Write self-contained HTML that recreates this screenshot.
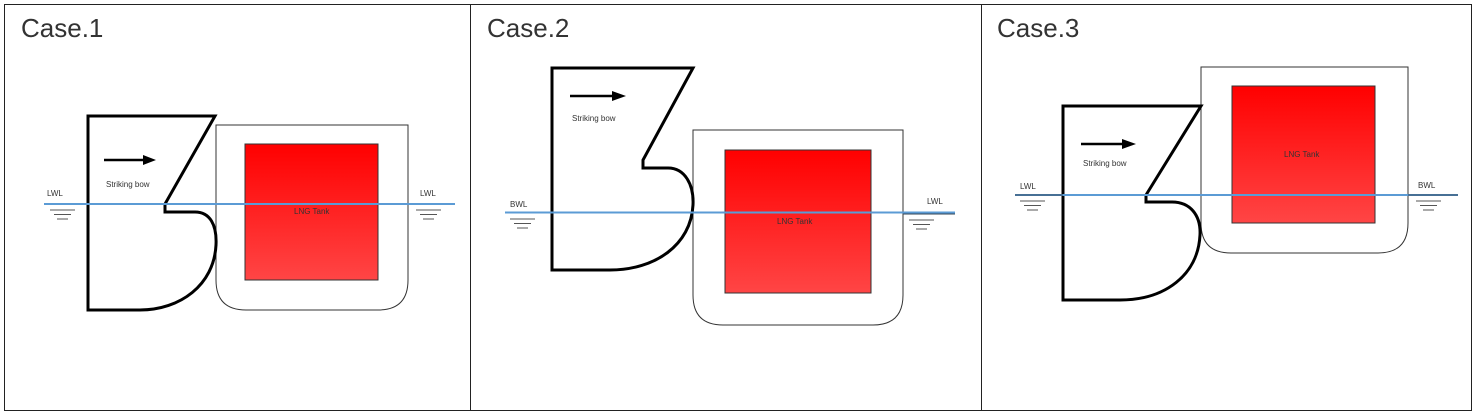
<!DOCTYPE html>
<html><head><style>
html,body{margin:0;padding:0;background:#fff;}
svg{display:block;}
text{font-family:"Liberation Sans",sans-serif;}
</style></head><body>
<svg width="1480" height="418" viewBox="0 0 1480 418" xmlns="http://www.w3.org/2000/svg">
<defs>
<linearGradient id="g" x1="0" y1="0" x2="0" y2="1">
<stop offset="0" stop-color="#ff0000"/><stop offset="1" stop-color="#ff4545"/>
</linearGradient>
</defs>
<rect x="4.5" y="4.5" width="1467" height="406" fill="#fff" stroke="#222" stroke-width="1"/>
<line x1="470.5" y1="4" x2="470.5" y2="411" stroke="#222"/>
<line x1="981.5" y1="4" x2="981.5" y2="411" stroke="#222"/>
<g font-size="26" fill="#333" font-weight="300">
<text x="21" y="37">Case.1</text>
<text x="487" y="37">Case.2</text>
<text x="997" y="37">Case.3</text>
</g>

<!-- Case 1 -->
<path d="M216,125 H408 V280 Q408,310 378,310 H246 Q216,310 216,280 Z" fill="#fff" stroke="#333" stroke-width="1"/>
<rect x="245" y="144" width="133" height="136" fill="url(#g)" stroke="#333" stroke-width="1"/>
<path d="M88,116 H215 L165,204 V212 H195 C210,212 217,225 216,245 C214,285 180,310 140,310 H88 Z" fill="#fff" stroke="#000" stroke-width="3" stroke-linejoin="miter"/>
<line x1="104" y1="160" x2="145" y2="160" stroke="#000" stroke-width="2.5"/>
<polygon points="143,155 156,160 143,165" fill="#000"/>
<text x="106" y="187" font-size="8" fill="#333">Striking bow</text>
<text x="294" y="214" font-size="8" fill="#333">LNG Tank</text>
<line x1="44" y1="204" x2="455" y2="204" stroke="#5b9bd5" stroke-width="2"/>
<text x="47" y="196" font-size="8" fill="#333">LWL</text>
<text x="420" y="196" font-size="8" fill="#333">LWL</text>
<g stroke="#555" stroke-width="1">
<line x1="50" y1="210" x2="75" y2="210"/><line x1="54" y1="214.5" x2="71" y2="214.5"/><line x1="57" y1="219" x2="68" y2="219"/>
<line x1="416" y1="210" x2="441" y2="210"/><line x1="420" y1="214.5" x2="437" y2="214.5"/><line x1="423" y1="219" x2="434" y2="219"/>
</g>

<!-- Case 2 -->
<path d="M693,130 H903 V295 Q903,325 873,325 H723 Q693,325 693,295 Z" fill="#fff" stroke="#333" stroke-width="1"/>
<rect x="725" y="150" width="146" height="143" fill="url(#g)" stroke="#333" stroke-width="1"/>
<path d="M552,68 H693 L643,160 V168 H668 C685,168 694,185 693,205 C691,245 655,270 610,270 H552 Z" fill="#fff" stroke="#000" stroke-width="3"/>
<line x1="570" y1="96" x2="614" y2="96" stroke="#000" stroke-width="2.5"/>
<polygon points="612,91 626,96 612,101" fill="#000"/>
<text x="572" y="121" font-size="8" fill="#333">Striking bow</text>
<text x="777" y="224" font-size="8" fill="#333">LNG Tank</text>
<line x1="505" y1="212.5" x2="955" y2="212.5" stroke="#5b9bd5" stroke-width="2"/>
<line x1="903" y1="214" x2="955" y2="214" stroke="#345" stroke-width="1"/>
<text x="510" y="207" font-size="8" fill="#333">BWL</text>
<text x="927" y="204" font-size="8" fill="#333">LWL</text>
<g stroke="#555" stroke-width="1">
<line x1="510" y1="219" x2="535" y2="219"/><line x1="514" y1="223.5" x2="531" y2="223.5"/><line x1="517" y1="228" x2="528" y2="228"/>
<line x1="909" y1="220" x2="934" y2="220"/><line x1="913" y1="224.5" x2="930" y2="224.5"/><line x1="916" y1="229" x2="927" y2="229"/>
</g>

<!-- Case 3 -->
<path d="M1201,67 H1408 V223 Q1408,253 1378,253 H1231 Q1201,253 1201,223 Z" fill="#fff" stroke="#333" stroke-width="1"/>
<rect x="1232" y="86" width="143" height="137" fill="url(#g)" stroke="#333" stroke-width="1"/>
<path d="M1063,106 H1201 L1146,195 V202 H1172 C1190,202 1201,215 1200,235 C1198,275 1165,300 1120,300 H1063 Z" fill="#fff" stroke="#000" stroke-width="3"/>
<line x1="1081" y1="144" x2="1124" y2="144" stroke="#000" stroke-width="2.5"/>
<polygon points="1122,139 1136,144 1122,149" fill="#000"/>
<text x="1083" y="166" font-size="8" fill="#333">Striking bow</text>
<text x="1284" y="157" font-size="8" fill="#333">LNG Tank</text>
<line x1="1015" y1="195" x2="1458" y2="195" stroke="#5b9bd5" stroke-width="2"/>
<line x1="1015" y1="195" x2="1063" y2="195" stroke="#345" stroke-width="1"/>
<line x1="1408" y1="195" x2="1458" y2="195" stroke="#345" stroke-width="1"/>
<text x="1020" y="189" font-size="8" fill="#333">LWL</text>
<text x="1418" y="188" font-size="8" fill="#333">BWL</text>
<g stroke="#555" stroke-width="1">
<line x1="1020" y1="201" x2="1045" y2="201"/><line x1="1024" y1="205.5" x2="1041" y2="205.5"/><line x1="1027" y1="210" x2="1038" y2="210"/>
<line x1="1416" y1="201" x2="1441" y2="201"/><line x1="1420" y1="205.5" x2="1437" y2="205.5"/><line x1="1423" y1="210" x2="1434" y2="210"/>
</g>
</svg>
</body></html>
